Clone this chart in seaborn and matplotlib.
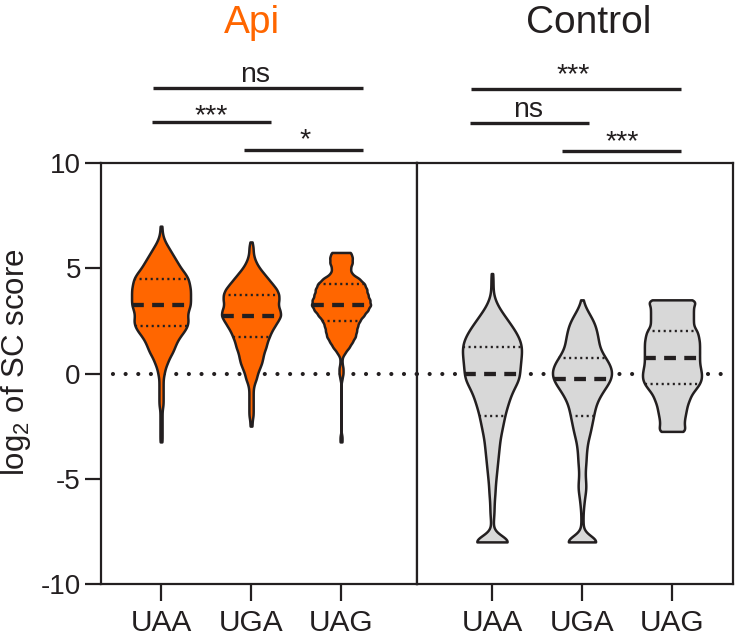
import numpy as np
import pandas as pd
import matplotlib
matplotlib.use("Agg")
import matplotlib.pyplot as plt
import seaborn as sns

# ---------------- data ----------------
codons = ["UAA", "UGA", "UAG"]
panel_titles = ["Api", "Control"]

# value levels (log2 SC score) and how many observations sit at each level
api_uaa_levels = [7.0, 6.75, 6.5, 6.25, 6.0, 5.75, 5.5, 5.25, 5.0, 4.75, 4.5, 4.25, 4.0, 3.75,
                  3.5, 3.25, 3.0, 2.75, 2.5, 2.25, 2.0, 1.75, 1.5, 1.25, 1.0, 0.75, 0.5, 0.25,
                  0.0, -0.25, -0.5, -0.75, -1.0, -1.25, -1.5, -1.75, -2.0, -2.25, -2.5, -2.75,
                  -3.0, -3.25]
api_uaa_counts = [1, 1, 2, 4, 7, 10, 13, 16, 19, 23, 26, 27, 28, 28,
                  28, 28, 26, 25, 26, 25, 22, 18, 15, 13, 11, 8, 6, 4,
                  3, 2, 2, 2, 2, 2, 2, 1, 1, 1, 1, 1,
                  1, 1]

api_uga_levels = [6.25, 6.0, 5.75, 5.5, 5.25, 5.0, 4.75, 4.5, 4.25, 4.0, 3.75, 3.5, 3.25, 3.0,
                  2.75, 2.5, 2.25, 2.0, 1.75, 1.5, 1.25, 1.0, 0.75, 0.5, 0.25, 0.0, -0.25,
                  -0.5, -0.75, -1.0, -1.25, -1.5, -1.75, -2.0, -2.25, -2.5]
api_uga_counts = [1, 2, 2, 3, 5, 8, 12, 16, 20, 24, 26, 26, 25, 27,
                  28, 25, 22, 19, 17, 15, 14, 12, 11, 10, 8, 6, 5,
                  3, 2, 2, 2, 2, 2, 2, 1, 1]

api_uag_levels = [5.75, 5.5, 5.25, 5.0, 4.75, 4.5, 4.25, 4.0, 3.75, 3.5, 3.25, 3.0, 2.75, 2.5,
                  2.25, 2.0, 1.75, 1.5, 1.25, 1.0, 0.75, 0.5, 0.25, 0.0, -0.25, -3.0, -3.25]
api_uag_counts = [10, 11, 11, 9, 10, 18, 23, 25, 26, 28, 29, 26, 22, 18,
                  16, 15, 14, 11, 8, 4, 1, 1, 2, 2, 1, 1, 1]

ctl_uaa_levels = [4.75, 4.5, 4.25, 4.0, 3.75, 3.5, 3.25, 3.0, 2.75, 2.5, 2.25, 2.0, 1.75, 1.5,
                  1.25, 1.0, 0.75, 0.5, 0.25, 0.0, -0.25, -0.5, -0.75, -1.0, -1.25, -1.5,
                  -1.75, -2.0, -2.25, -2.5, -2.75, -3.0, -3.25, -3.5, -3.75, -4.0, -4.25,
                  -4.5, -4.75, -5.0, -5.25, -5.5, -5.75, -6.0, -6.25, -6.5, -6.75, -7.0,
                  -7.25, -7.5, -7.75, -8.0]
ctl_uaa_counts = [1, 1, 1, 1, 1, 3, 5, 8, 12, 15, 19, 22, 25, 27,
                  28, 28, 27, 27, 26, 26, 26, 23, 20, 18, 16, 15,
                  13, 12, 11, 10, 9, 8, 7, 7, 6, 6, 5,
                  5, 4, 4, 3, 3, 3, 2, 2, 2, 2, 1,
                  1, 1, 2, 40]

ctl_uga_levels = [3.5, 3.25, 3.0, 2.75, 2.5, 2.25, 2.0, 1.75, 1.5, 1.25, 1.0, 0.75, 0.5, 0.25,
                  0.0, -0.25, -0.5, -0.75, -1.0, -1.25, -1.5, -1.75, -2.0, -2.25, -2.5, -2.75,
                  -3.0, -3.25, -3.5, -3.75, -4.0, -4.25, -4.5, -4.75, -5.0, -5.25, -5.5,
                  -5.75, -6.0, -6.25, -6.5, -6.75, -7.0, -7.25, -7.5, -7.75, -8.0]
ctl_uga_counts = [1, 2, 5, 8, 11, 13, 14, 15, 16, 16, 19, 22, 26, 28,
                  29, 28, 25, 21, 18, 15, 13, 12, 11, 10, 9, 8,
                  7, 5, 5, 4, 4, 4, 3, 3, 3, 4, 4,
                  3, 2, 2, 1, 1, 1, 1, 1, 2, 35]

ctl_uag_levels = [3.5, 3.25, 3.0, 2.75, 2.5, 2.25, 2.0, 1.75, 1.5, 1.25, 1.0, 0.75, 0.5, 0.25,
                  0.0, -0.25, -0.5, -0.75, -1.0, -1.25, -1.5, -1.75, -2.0, -2.25, -2.5, -2.75]
ctl_uag_counts = [26, 21, 21, 21, 21, 21, 25, 26, 27, 27, 27, 27, 27, 28,
                  29, 29, 27, 23, 19, 17, 15, 14, 13, 12, 12, 14]

y_ticks = [-10, -5, 0, 5, 10]
y_label = r"log$_2$ of SC score"

# significance annotations: (label, bar x0, bar x1, bar y, text x, text baseline y)
api_sig = [("ns", -0.086, 2.241, 13.55, 1.044, 13.86),
           ("***", -0.097, 1.219, 11.96, 0.556, 11.91),
           ("*", 0.922, 2.241, 10.62, 1.600, 10.73)]
ctl_sig = [("***", -0.233, 2.097, 13.52, 0.903, 13.82),
           ("ns", -0.244, 1.078, 11.91, 0.403, 12.20),
           ("***", 0.774, 2.097, 10.57, 1.452, 10.65)]

# ---------------- style ----------------
ORANGE = "#FF6600"
GREY = "#D8D8D8"
INK = "#231F20"

sns.set_style("ticks")
plt.rcParams["font.family"] = ["Liberation Sans", "DejaVu Sans"]
plt.rcParams["axes.unicode_minus"] = False
plt.rcParams["mathtext.default"] = "regular"
plt.rcParams["lines.scale_dashes"] = False


def make_frame(levels_list, counts_list):
    rows_c, rows_v = [], []
    for cod, lv, ct in zip(codons, levels_list, counts_list):
        vals = np.repeat(np.asarray(lv, float), np.asarray(ct, int))
        rows_v.append(vals)
        rows_c.append(np.full(len(vals), cod))
    return pd.DataFrame({"codon": np.concatenate(rows_c), "value": np.concatenate(rows_v)})


fig = plt.figure(figsize=(7.36, 6.41), dpi=100)
W, H = 736.0, 641.0
bottom = 1 - 584 / H
height = (584 - 163) / H
ax1 = fig.add_axes([101 / W, bottom, 316 / W, height])
ax2 = fig.add_axes([417 / W, bottom, 316 / W, height])

panels = [
    (ax1, make_frame([api_uaa_levels, api_uga_levels, api_uag_levels],
                     [api_uaa_counts, api_uga_counts, api_uag_counts]), ORANGE,
     (-0.667, 2.844), api_sig, panel_titles[0], ORANGE, 1.008, 0.5),
    (ax2, make_frame([ctl_uaa_levels, ctl_uga_levels, ctl_uag_levels],
                     [ctl_uaa_counts, ctl_uga_counts, ctl_uag_counts]), GREY,
     (-0.833, 2.678), ctl_sig, panel_titles[1], INK, 1.078, 0.0),
]

for ax, df, fill, xlim, sig, title, tcol, tx, zoff in panels:
    sns.violinplot(data=df, x="codon", y="value", order=codons, color=fill,
                   saturation=1, cut=0, inner="quart", density_norm="width",
                   width=0.655, linewidth=1.8, linecolor=INK, bw_method=0.10,
                   gridsize=300, ax=ax)
    lines = list(ax.lines)
    for k in range(0, len(lines) - len(lines) % 3, 3):
        trip = sorted(lines[k:k + 3], key=lambda l: float(np.mean(l.get_ydata())))
        for j, ln in enumerate(trip):
            ln.set_color(INK)
            ln.set_zorder(3)
            if j == 1:
                ln.set_linewidth(3.1)
                ln.set_linestyle((0, (8.5, 6.0)))
                ln.set_dash_capstyle("butt")
            else:
                ln.set_linewidth(1.7)
                ln.set_linestyle((0, (1.5, 2.5)))
                ln.set_dash_capstyle("butt")
    for coll in ax.collections:
        coll.set_edgecolor(INK)
        coll.set_linewidth(1.8)

    ax.axhline(0, color=INK, lw=3.0, linestyle=(zoff, (0.01, 9.1)),
               dash_capstyle="round", zorder=0.5)

    ax.set_xlim(*xlim)
    ax.set_ylim(-10, 10)
    ax.set_yticks(y_ticks)
    ax.set_yticklabels([str(t) for t in y_ticks])
    ax.set_xlabel("")
    ax.set_ylabel("")
    for sp in ax.spines.values():
        sp.set_visible(True)
        sp.set_linewidth(1.6)
        sp.set_color(INK)
    ax.tick_params(axis="x", length=12, width=1.6, color=INK, labelsize=21.5,
                   pad=6, labelcolor=INK)
    ax.tick_params(axis="y", length=11.5, width=1.6, color=INK, labelsize=20,
                   pad=3, labelcolor=INK)

    for lab, x0, x1, yb, xt, yt in sig:
        ax.plot([x0, x1], [yb, yb], color=INK, lw=2.4, clip_on=False,
                solid_capstyle="butt")
        ax.text(xt, yt, lab, ha="center", va="baseline", fontsize=20.5,
                color=INK, clip_on=False)
    ax.text(tx, 16.18, title, ha="center", va="baseline", fontsize=28,
            color=tcol, clip_on=False)

ax2.tick_params(axis="y", left=False, labelleft=False)

fig.text(16 / W, 1 - 362 / H, y_label, rotation=90, ha="center", va="center",
         fontsize=22.5, color=INK)

fig.savefig("out.png", dpi=100)
